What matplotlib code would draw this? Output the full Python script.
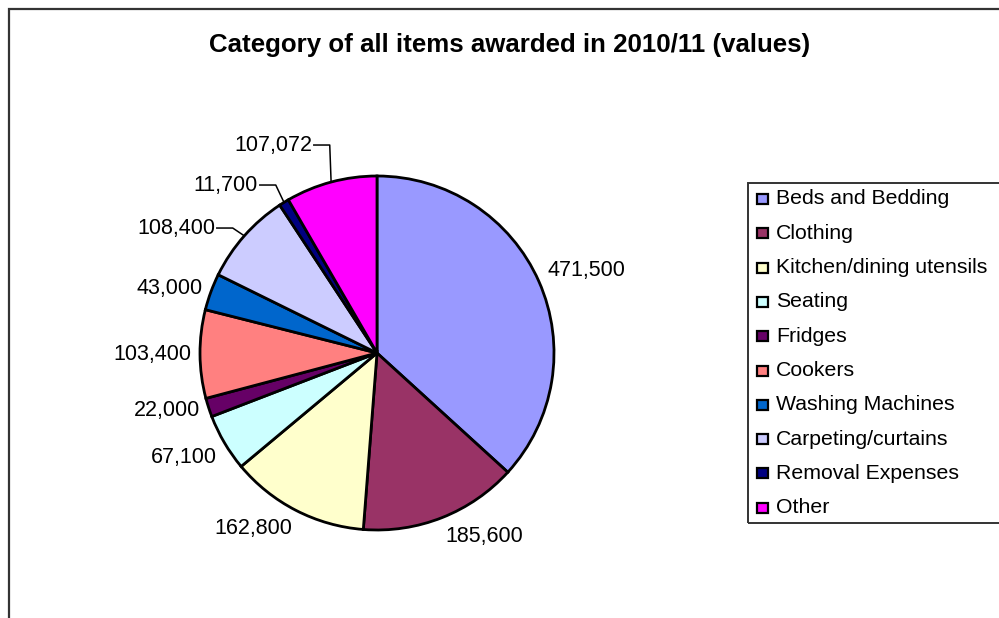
import numpy as np
import matplotlib
matplotlib.use("Agg")
import matplotlib.pyplot as plt
from matplotlib.patches import Rectangle

categories = [
    "Beds and Bedding",
    "Clothing",
    "Kitchen/dining utensils",
    "Seating",
    "Fridges",
    "Cookers",
    "Washing Machines",
    "Carpeting/curtains",
    "Removal Expenses",
    "Other",
]
values = [471500, 185600, 162800, 67100, 22000, 103400, 43000, 108400, 11700, 107072]
colors = ["#9999FF", "#993366", "#FFFFCC", "#CCFFFF", "#660066",
          "#FF8080", "#0066CC", "#CCCCFF", "#000080", "#FF00FF"]

# small slices on the upper left get pulled-out labels with leader lines
# (index -> text anchor in pie-radius units, right edge of the label)
leader_labels = {7: (-0.915, 0.706), 8: (-0.672, 0.949), 9: (-0.367, 1.175)}

W, H = 999, 618
plt.rcParams["font.family"] = ["Liberation Sans", "DejaVu Sans"]


def fx(px):
    return px / W


def fy(py):
    return 1 - py / H


fig = plt.figure(figsize=(W / 100, H / 100), dpi=100)

# outer chart-area frame (runs off the right and bottom edges)
fig.patches.append(Rectangle((fx(9), fy(660)), (1060 - 9) / W, (660 - 9) / H,
                             transform=fig.transFigure, fill=False,
                             edgecolor="#333333", linewidth=1.6))

fig.text(fx(510), fy(45), "Category of all items awarded in 2010/11 (values)",
         ha="center", va="center", fontsize=18.6, fontweight="bold")

# pie
cx, cy, r = 377, 353, 177
ax = fig.add_axes([fx(cx - r), fy(cy + r), 2 * r / W, 2 * r / H])
wedges, _ = ax.pie(values, colors=colors, startangle=90, counterclock=False,
                   wedgeprops=dict(edgecolor="black", linewidth=2.0))
ax.set_xlim(-1, 1)
ax.set_ylim(-1, 1)
ax.axis("off")

for i, (w, v) in enumerate(zip(wedges, values)):
    mid = np.deg2rad((w.theta1 + w.theta2) / 2)
    c, s = np.cos(mid), np.sin(mid)
    txt = f"{v:,}"
    if i in leader_labels:
        tx, ty = leader_labels[i]
        elbow_x = tx + 0.1
        ax.plot([tx + 0.01, elbow_x, c], [ty, ty, s], color="black",
                linewidth=1.1, clip_on=False)
        ax.text(tx, ty, txt, ha="right", va="center", fontsize=15.5,
                clip_on=False)
        continue
    d = 1.05
    ha = "left" if c > 0 else "right"
    if abs(s) < 0.5:
        va = "center"
    else:
        va = "bottom" if s > 0 else "top"
    ax.text(d * c, d * s + (0.04 if i == 0 else 0), txt, ha=ha, va=va,
            fontsize=15.5, clip_on=False)

# legend box (runs off the right edge)
fig.patches.append(Rectangle((fx(748), fy(523)), (1040 - 748) / W, (523 - 183) / H,
                             transform=fig.transFigure, fill=False,
                             edgecolor="#333333", linewidth=1.4))
for i, (name, col) in enumerate(zip(categories, colors)):
    yc = 199 + i * 34.3
    fig.patches.append(Rectangle((fx(757), fy(yc + 5)), 11 / W, 10 / H,
                                 transform=fig.transFigure, facecolor=col,
                                 edgecolor="black", linewidth=1.6))
    fig.text(fx(776), fy(yc), name, ha="left", va="center", fontsize=15.3)

fig.savefig("out.png", dpi=100)
